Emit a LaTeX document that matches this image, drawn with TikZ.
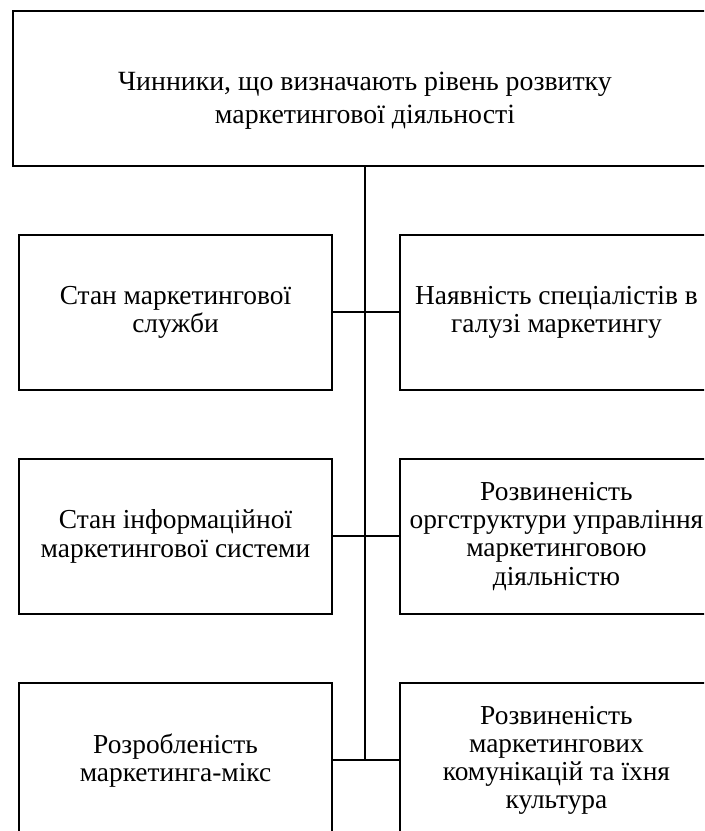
\documentclass[tikz,border=0pt]{standalone}
\usepackage{fontspec}
\setmainfont{Liberation Serif}
\usetikzlibrary{positioning}

\begin{document}
\begin{tikzpicture}[
    node distance=1.675cm and 1.65cm,
    headbox/.style={rectangle, minimum width=17.6cm, minimum height=3.875cm, draw, line width=1.4pt, align=center, font=\fontsize{19.8}{23.5}\selectfont},
    factor/.style={rectangle, minimum width=7.825cm, minimum height=3.875cm, inner sep=0pt, draw, line width=1.4pt, align=center, font=\fontsize{19.5}{20}\selectfont},
    link/.style={line width=1.4pt}
]
    \useasboundingbox (0,0) rectangle (17.6,-20.775);
    \clip (0,0) rectangle (17.6,-20.775);
    \node[headbox, anchor=north west] (head) at (0.3,-0.25) {\rule{0pt}{30pt}Чинники, що визначають рівень розвитку\\маркетингової діяльності};
    \node[factor, below right=1.675cm and 0.15cm of head.south west] (service) {Стан маркетингової\\служби};
    \node[factor, right=of service] (staff) {Наявність спеціалістів в\\галузі маркетингу};
    \node[factor, below=of service] (infosys) {Стан інформаційної\\маркетингової системи};
    \node[factor, right=of infosys] (orgstruct) {Розвиненість\\оргструктури управління\\маркетинговою\\діяльністю};
    \node[factor, below=of infosys] (mix) {Розробленість\\маркетинга-мікс};
    \node[factor, right=of mix] (comms) {Розвиненість\\маркетингових\\комунікацій та їхня\\культура};
    \draw[link] (head.south) -- (head.south |- mix.east);
    \draw[link] (service) -- (staff);
    \draw[link] (infosys) -- (orgstruct);
    \draw[link] (mix) -- (comms);
\end{tikzpicture}
\end{document}
